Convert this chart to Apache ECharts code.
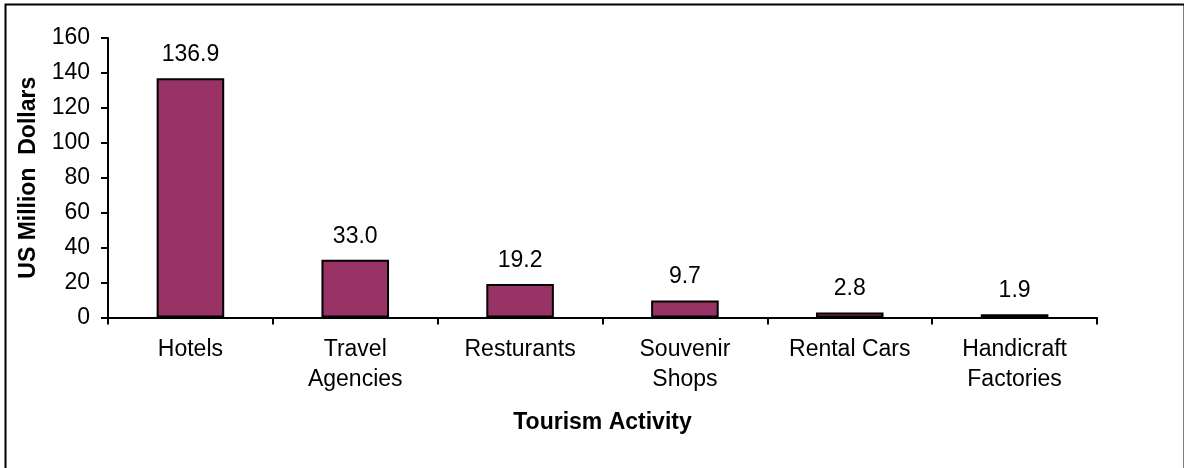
<!DOCTYPE html>
<html>
<head>
<meta charset="utf-8">
<title>Tourism Activity</title>
<script src="https://cdn.jsdelivr.net/npm/echarts@6/dist/echarts.min.js"></script>
<style>
  html, body { margin: 0; padding: 0; background: #ffffff; }
  #chart { width: 1184px; height: 468px; }
</style>
</head>
<body>
<div id="chart"></div>
<script>
// Tourism revenue by activity, US million dollars
const categories = ['Hotels', 'Travel\nAgencies', 'Resturants', 'Souvenir\nShops', 'Rental Cars', 'Handicraft\nFactories'];
const revenue = [136.9, 33.0, 19.2, 9.7, 2.8, 1.9];
const yTicks = [0, 20, 40, 60, 80, 100, 120, 140, 160];

const FONT = '"Liberation Sans", Arial, sans-serif';
const chart = echarts.init(document.getElementById('chart'), null, { renderer: 'canvas' });

chart.setOption({
  animation: false,
  backgroundColor: '#ffffff',
  textStyle: { fontFamily: FONT },
  // frame around the chart area (open at the bottom edge of the page)
  graphic: [{
    type: 'rect',
    left: 3, top: 2,
    shape: { width: 1179, height: 520 },
    style: { fill: 'none', stroke: '#000000', lineWidth: 2 },
    silent: true
  }],
  grid: { left: 108, right: 87, top: 38, bottom: 150.5, containLabel: false },
  xAxis: {
    type: 'category',
    data: categories,
    name: 'Tourism Activity',
    nameLocation: 'middle',
    nameGap: 94,
    nameTextStyle: { fontFamily: FONT, fontSize: 23, fontWeight: 'bold', color: '#000' },
    axisLine: { lineStyle: { color: '#000', width: 2 } },
    axisTick: { show: true, length: 7, alignWithLabel: false, lineStyle: { color: '#000', width: 2 } },
    axisLabel: { fontFamily: FONT, fontSize: 23, color: '#000', margin: 17, lineHeight: 30, interval: 0 }
  },
  yAxis: {
    type: 'value',
    min: yTicks[0],
    max: yTicks[yTicks.length - 1],
    interval: yTicks[1] - yTicks[0],
    name: 'US Million  Dollars',
    nameLocation: 'middle',
    nameGap: 68,
    nameTextStyle: { fontFamily: FONT, fontSize: 23, fontWeight: 'bold', color: '#000' },
    axisLine: { show: true, lineStyle: { color: '#000', width: 2 } },
    axisTick: { show: true, length: 7, lineStyle: { color: '#000', width: 2 } },
    axisLabel: { fontFamily: FONT, fontSize: 23, color: '#000', margin: 18 },
    splitLine: { show: false }
  },
  series: [{
    type: 'bar',
    data: revenue,
    barWidth: '41%',
    itemStyle: { color: '#993366', borderColor: '#000000', borderWidth: 2 },
    label: {
      show: true,
      position: 'top',
      distance: 12,
      fontFamily: FONT,
      fontSize: 23,
      color: '#000',
      formatter: p => p.value.toFixed(1)
    }
  }]
});
</script>
</body>
</html>
